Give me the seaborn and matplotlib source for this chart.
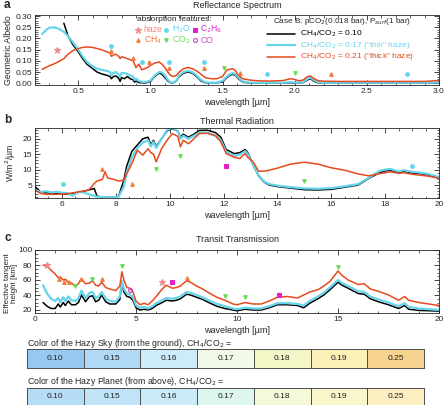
import numpy as np
import matplotlib
matplotlib.use('Agg')
import matplotlib.pyplot as plt
from matplotlib.colors import ListedColormap
from matplotlib.ticker import MultipleLocator, FormatStrFormatter
import seaborn as sns

# ---- colours ----
BLACK = '#000000'
CYAN = '#66D4EA'
RED = '#E64A1E'
C_HAZE = '#F08A8A'
C_H2O = '#5FD6EC'
C_C2H6 = '#E020C8'
C_CH4 = '#F07A3A'
C_CO2 = '#66DD55'
C_CO = '#C840C0'

# ---- panel a: reflectance spectrum ----
wl_a = [0.25, 0.28, 0.30, 0.33, 0.36, 0.40, 0.43, 0.46, 0.50, 0.53, 0.56, 0.60, 0.63, 0.66,
        0.70, 0.72, 0.73, 0.74, 0.76, 0.78, 0.79, 0.80, 0.82, 0.84, 0.86, 0.88, 0.89, 0.90,
        0.92, 0.94, 0.96, 0.98, 1.00, 1.03, 1.06, 1.08, 1.10, 1.12, 1.14, 1.16, 1.18, 1.20,
        1.23, 1.26, 1.29, 1.32, 1.35, 1.38, 1.42, 1.46, 1.50, 1.53, 1.55, 1.57, 1.59, 1.61,
        1.64, 1.68, 1.72, 1.78, 1.85, 1.92, 1.97, 2.00, 2.03, 2.06, 2.09, 2.11, 2.13, 2.16,
        2.20, 2.30, 2.40, 2.50, 2.60, 2.70, 2.80, 2.90, 3.00]
alb_black = [np.nan, np.nan, np.nan, np.nan, np.nan, 0.268, 0.21, 0.175, 0.14, 0.11, 0.085, 0.065, 0.05, 0.042,
             0.035, 0.03, 0.02, 0.028, 0.033, 0.022, 0.008, 0.025, 0.02, 0.03, 0.02, 0.015, 0.005, 0.01,
             0.003, 0.002, 0.001, 0.003, 0.008, 0.03, 0.045, 0.04, 0.025, 0.01, 0.002, 0.002, 0.01, 0.03,
             0.045, 0.05, 0.045, 0.03, 0.01, 0.002, 0.001, 0.002, 0.005, 0.025, 0.035, 0.04, 0.035, 0.02,
             0.005, 0.001, 0.001, 0.001, 0.001, 0.001, 0.002, 0.001, 0.001, 0.003, 0.015, 0.02, 0.01, 0.002,
             0.001, 0.001, 0.001, 0.001, 0.001, 0.001, 0.001, 0.001, 0.001]
alb_cyan = [0.22, 0.24, 0.248, 0.25, 0.245, 0.23, 0.21, 0.185, 0.15, 0.12, 0.095, 0.075, 0.065, 0.06,
            0.055, 0.05, 0.035, 0.045, 0.05, 0.04, 0.028, 0.045, 0.045, 0.042, 0.035, 0.03, 0.015, 0.02,
            0.01, 0.006, 0.005, 0.007, 0.012, 0.035, 0.05, 0.048, 0.035, 0.015, 0.004, 0.003, 0.012, 0.035,
            0.05, 0.055, 0.05, 0.035, 0.015, 0.004, 0.002, 0.003, 0.01, 0.03, 0.04, 0.045, 0.04, 0.025,
            0.008, 0.003, 0.002, 0.002, 0.002, 0.002, 0.005, 0.003, 0.002, 0.005, 0.02, 0.025, 0.015, 0.005,
            0.002, 0.002, 0.002, 0.002, 0.002, 0.002, 0.002, 0.002, 0.003]
alb_red = [0.062, 0.072, 0.078, 0.086, 0.095, 0.11, 0.13, 0.145, 0.155, 0.16, 0.162, 0.16, 0.155, 0.15,
           0.14, 0.135, 0.12, 0.125, 0.13, 0.12, 0.11, 0.118, 0.115, 0.11, 0.105, 0.10, 0.085, 0.07,
           0.085, 0.06, 0.065, 0.07, 0.08, 0.09, 0.095, 0.085, 0.07, 0.05, 0.035, 0.03, 0.035, 0.05,
           0.065, 0.07, 0.065, 0.055, 0.04, 0.025, 0.02, 0.02, 0.03, 0.06, 0.062, 0.065, 0.055, 0.035,
           0.02, 0.015, 0.012, 0.01, 0.01, 0.012, 0.02, 0.017, 0.01, 0.015, 0.03, 0.032, 0.022, 0.012,
           0.009, 0.008, 0.008, 0.008, 0.008, 0.008, 0.008, 0.008, 0.012]

a_haze = ([0.35], [0.148])
a_h2o = ([0.725, 0.945, 1.13, 1.37, 1.81, 2.78], [0.166, 0.093, 0.093, 0.093, 0.04, 0.04])
a_ch4 = ([0.725, 0.88, 0.99, 1.13, 1.37, 1.62, 2.25], [0.144, 0.114, 0.093, 0.07, 0.07, 0.046, 0.04])
a_co2 = ([1.51, 2.0], [0.069, 0.046])

# ---- panel b: thermal radiation ----
wl_b = [5.0, 5.2, 5.4, 5.6, 5.8, 6.0, 6.2, 6.4, 6.6, 6.8, 7.0, 7.2, 7.3, 7.5, 7.6, 7.7, 7.9, 8.1,
        8.3, 8.4, 8.6, 8.8, 9.0, 9.2, 9.3, 9.4, 9.5, 9.7, 9.9, 10.1, 10.3, 10.4, 10.5, 10.7, 10.9,
        11.1, 11.4, 11.7, 11.9, 12.1, 12.4, 12.6, 12.8, 12.9, 13.1, 13.3, 13.5, 13.7, 14.0, 14.5,
        15.0, 15.5, 16.0, 16.5, 17.0, 17.4, 17.8, 18.0, 18.2, 18.5, 18.7, 19.0, 19.3, 19.6, 20.0]
flux_black = [4.5, 2.8, 2.5, 2.3, 2.2, 2.1, 2.1, 2.3, 2.6, 3.0, 3.4, 3.9, 1.4, 1.1, 1.0, 1.0, 1.0, 1.3,
              6.6, 11.0, 16.0, 18.0, 20.0, 20.5, 18.0, 19.5, 17.5, 20.0, 22.5, 23.3, 22.5, 20.5, 21.5, 20.5, 21.5,
              22.7, 22.8, 22.0, 20.5, 16.5, 15.2, 15.5, 16.5, 15.5, 11.5, 8.0, 6.0, 5.0, 4.5, 4.0,
              3.5, 3.4, 3.6, 4.3, 5.0, 7.2, 9.0, 9.6, 9.8, 9.0, 9.5, 8.9, 8.7, 8.3, 7.2]
flux_cyan = [3.5, 2.7, 3.0, 2.6, 2.8, 2.5, 2.4, 1.5, 2.8, 2.6, 2.0, 1.5, 1.2, 1.1, 1.0, 1.0, 1.0, 1.2,
             4.5, 9.0, 14.0, 17.0, 18.8, 19.5, 17.5, 19.0, 17.0, 20.0, 22.8, 23.6, 22.5, 20.0, 21.0, 20.0, 21.0,
             22.0, 22.0, 21.0, 19.5, 15.8, 14.5, 14.8, 16.0, 15.0, 11.5, 8.2, 6.2, 5.3, 4.8, 4.3,
             3.9, 3.8, 4.0, 4.6, 5.3, 7.4, 9.6, 10.0, 10.2, 9.4, 9.8, 9.3, 9.0, 8.6, 7.6]
flux_red = [3.4, 2.3, 2.0, 2.0, 2.0, 2.1, 2.2, 2.4, 2.8, 3.0, 3.4, 5.5, 6.3, 6.8, 9.3, 7.3, 6.9, 6.3,
            6.6, 8.6, 12.0, 16.3, 14.7, 16.8, 15.5, 15.0, 12.5, 16.8, 19.5, 21.7, 20.8, 17.4, 19.5, 18.4, 20.0,
            21.7, 21.8, 21.0, 19.0, 15.2, 14.0, 13.6, 15.2, 14.0, 12.5, 9.5, 9.5, 9.8, 10.5, 11.8,
            12.4, 11.8, 10.6, 9.8, 8.6, 8.0, 8.7, 9.0, 9.3, 8.8, 9.0, 8.5, 8.2, 7.9, 7.2]

b_h2o = ([6.05, 19.0], [5.3, 11.2])
b_ch4 = ([7.5, 8.6], [10.1, 5.2])
b_co2 = ([9.5, 10.4, 15.0], [10.2, 14.4, 6.3])
b_c2h6 = ([12.1], [11.1])

# ---- panel c: transit transmission ----
wl_c = [0.4, 0.6, 0.8, 1.0, 1.15, 1.25, 1.4, 1.5, 1.65, 1.8, 2.0, 2.15, 2.3, 2.5, 2.7, 2.85, 3.0,
        3.15, 3.3, 3.5, 3.7, 4.0, 4.2, 4.3, 4.4, 4.55, 4.7, 4.85, 5.0, 5.2, 5.4, 5.6, 5.8, 6.0, 6.3,
        6.5, 6.8, 7.0, 7.2, 7.5, 7.7, 8.0, 8.3, 8.6, 9.0, 9.4, 9.8, 10.0, 10.4, 10.8, 11.2, 11.6,
        12.0, 12.5, 13.0, 13.3, 13.6, 14.0, 14.3, 14.6, 15.0, 15.2, 15.5, 16.0, 16.3, 16.6, 17.0,
        17.5, 18.0, 18.3, 18.5, 19.0, 19.5, 20.0]
h_black = [30, 25, 22, 22, 28, 24, 30, 26, 32, 27, 27, 30, 40, 31, 38, 39, 31,
           33, 40, 31, 28, 28, 34, 56, 44, 38, 37, 33, 23, 20, 21, 20, 22, 26, 30,
           33, 32, 33, 35, 41, 40, 37, 34, 30, 25, 22, 20, 19, 21, 20, 20, 23,
           27, 27, 26, 23, 29, 35, 40, 47, 57, 53, 49, 42, 41, 35, 31,
           27, 22, 26, 21, 19.5, 19, 18.5]
h_cyan = [53, 42, 35, 32, 36, 30, 37, 32, 38, 33, 32, 35, 46, 36, 43, 44, 36,
          38, 44, 35, 32, 31, 38, 59, 48, 42, 41, 37, 26, 23, 24, 22, 25, 29, 33,
          36, 35, 36, 38, 44, 43, 40, 37, 33, 28, 25, 22, 21, 23, 22, 22, 25,
          29, 29, 28, 26, 32, 38, 43, 50, 60, 56, 52, 45, 44, 38, 34,
          30, 25, 29, 24, 22, 21, 20]
h_red = [80, 78, 73, 68, 63, 64, 60, 61, 57, 56, 52, 55, 62, 55, 56, 59, 53,
         52, 57, 50, 48, 46, 52, 71, 60, 50, 49, 44, 32, 27, 29, 27, 32, 38, 48,
         53, 49, 50, 52, 59, 57, 52, 48, 43, 37, 33, 28, 27, 30, 28, 28, 32,
         37, 38, 36, 40, 44, 47, 52, 58, 72, 66, 60, 54, 55, 48, 45,
         40, 33, 38, 33, 30, 28, 26]

c_haze = ([0.6, 6.3], [80, 58])
c_ch4 = ([1.2, 1.45, 1.7, 2.3, 3.3, 7.5], [61, 58, 57, 61, 61, 63])
c_co2 = ([2.0, 2.8, 4.3, 9.4, 10.4, 15.0], [52, 61, 79, 39, 37, 77])
c_co = ([4.7], [47])
c_c2h6 = ([6.8, 12.1], [57, 40])

# ---- colour strips ----
ratios = ['0.10', '0.15', '0.16', '0.17', '0.18', '0.19', '0.25']
sky_colors = ['#96C9F2', '#B0D9F6', '#CDEBFA', '#F3F9E8', '#F3F6C6', '#FAF0B8', '#F6D38E']
planet_colors = ['#B7DCF6', '#C0E3F7', '#CBECF6', '#DDF6F0', '#F5F9DA', '#F9F6CC', '#FBEFC2']

sns.set_style('ticks')
plt.rcParams['font.family'] = ['Liberation Sans', 'DejaVu Sans']
plt.rcParams.update({
    'xtick.direction': 'in', 'ytick.direction': 'in',
    'xtick.top': True, 'ytick.right': True,
    'xtick.major.size': 3.5, 'ytick.major.size': 3.5,
    'xtick.minor.size': 1.8, 'ytick.minor.size': 1.8,
    'xtick.major.width': 0.6, 'ytick.major.width': 0.6,
    'xtick.minor.width': 0.5, 'ytick.minor.width': 0.5,
    'xtick.labelsize': 6, 'ytick.labelsize': 6,
    'axes.linewidth': 0.6, 'xtick.major.pad': 2.5, 'ytick.major.pad': 2,
})

fig = plt.figure(figsize=(4.44, 4.05), dpi=100)
W, H = 444.0, 405.0


def axes_px(left, top, right, bottom):
    return fig.add_axes([left / W, 1 - bottom / H, (right - left) / W, (bottom - top) / H])


def draw_lines(ax, x, ys):
    for y, col, lw in ys:
        sns.lineplot(x=x, y=y, ax=ax, color=col, lw=lw, sort=False, estimator=None, errorbar=None)


def marks(ax, pts, marker, col, size, filled=True):
    ax.plot(pts[0], pts[1], ls='none', marker=marker, ms=size,
            mfc=col if filled else 'none', mec=col, mew=0.8)


ax_a = axes_px(35, 15, 439, 85)
ax_b = axes_px(35, 128, 439, 198)
ax_c = axes_px(35, 250, 439, 313)

# panel a
sns.lineplot(x=wl_a[5:], y=alb_black[5:], ax=ax_a, color=BLACK, lw=1.1, sort=False, estimator=None, errorbar=None)
draw_lines(ax_a, wl_a, [(alb_cyan, CYAN, 1.6), (alb_red, RED, 1.1)])
marks(ax_a, a_haze, '*', C_HAZE, 5)
marks(ax_a, a_h2o, 'o', C_H2O, 2.6)
marks(ax_a, a_ch4, '^', C_CH4, 2.6)
marks(ax_a, a_co2, 'v', C_CO2, 2.6)
ax_a.set_xlim(0.2, 3.0)
ax_a.set_ylim(-0.008, 0.305)
ax_a.xaxis.set_major_locator(MultipleLocator(0.5))
ax_a.xaxis.set_minor_locator(MultipleLocator(0.1))
ax_a.yaxis.set_major_locator(MultipleLocator(0.05))
ax_a.yaxis.set_minor_locator(MultipleLocator(0.01))
ax_a.xaxis.set_major_formatter(FormatStrFormatter('%.1f'))
ax_a.yaxis.set_major_formatter(FormatStrFormatter('%.2f'))
ax_a.set_ylabel('Geometric Albedo', fontsize=6.3)
ax_a.yaxis.set_label_coords(-0.055, 0.5)

# absorption feature key
tr = ax_a.transAxes
ax_a.text(0.252, 0.935, 'absorption features:', transform=tr, fontsize=6, va='center')
key = [
    (0.255, 0.79, '*', C_HAZE, True, 'haze', 4.5),
    (0.325, 0.79, 'o', C_H2O, True, 'H$_2$O', 2.6),
    (0.395, 0.79, 's', C_C2H6, True, 'C$_2$H$_6$', 2.6),
    (0.255, 0.64, '^', C_CH4, True, 'CH$_4$', 2.6),
    (0.325, 0.64, 'v', C_CO2, True, 'CO$_2$', 2.6),
    (0.395, 0.64, 'o', C_CO, False, 'CO', 2.8),
]
for kx, ky, m, col, filled, lab, ms in key:
    ax_a.plot([kx], [ky], transform=tr, marker=m, ms=ms, ls='none',
              mfc=col if filled else 'none', mec=col, mew=0.8, clip_on=False)
    ax_a.text(kx + 0.014, ky, lab, transform=tr, fontsize=6.2, color=col, va='center')

# case legend
ax_a.text(0.59, 0.91, 'Case B: pCO$_2$(0.018 bar), P$_{surf}$(1 bar)', transform=tr, fontsize=5.9, va='center')
case = [(0.73, BLACK, 'CH$_4$/CO$_2$ = 0.10'),
        (0.57, CYAN, 'CH$_4$/CO$_2$ = 0.17 ("thin" haze)'),
        (0.40, RED, 'CH$_4$/CO$_2$ = 0.21 ("thick" haze)')]
for ly, col, lab in case:
    ax_a.plot([0.574, 0.644], [ly, ly], transform=tr, color=col, lw=1.1 if col != CYAN else 1.6)
    ax_a.text(0.656, ly, lab, transform=tr, fontsize=6.0, color=col, va='center')

# panel b
draw_lines(ax_b, wl_b, [(flux_black, BLACK, 1.1), (flux_cyan, CYAN, 1.6), (flux_red, RED, 1.1)])
marks(ax_b, b_h2o, 'o', C_H2O, 2.6)
marks(ax_b, b_ch4, '^', C_CH4, 2.6)
marks(ax_b, b_co2, 'v', C_CO2, 2.6)
marks(ax_b, b_c2h6, 's', C_C2H6, 2.6)
ax_b.set_xlim(5, 20)
ax_b.set_ylim(0.8, 23.5)
ax_b.xaxis.set_major_locator(MultipleLocator(2))
ax_b.xaxis.set_minor_locator(MultipleLocator(0.5))
ax_b.yaxis.set_minor_locator(MultipleLocator(1))
ax_b.set_yticks([5, 10, 15, 20])
ax_b.set_ylabel('W/m$^2$/µm', fontsize=6.3)
ax_b.yaxis.set_label_coords(-0.042, 0.5)

# panel c
draw_lines(ax_c, wl_c, [(h_black, BLACK, 1.1), (h_cyan, CYAN, 1.6), (h_red, RED, 1.1)])
marks(ax_c, c_haze, '*', C_HAZE, 5)
marks(ax_c, c_ch4, '^', C_CH4, 2.6)
marks(ax_c, c_co2, 'v', C_CO2, 2.6)
marks(ax_c, c_co, 'o', C_CO, 2.8, filled=False)
marks(ax_c, c_c2h6, 's', C_C2H6, 2.6)
ax_c.set_xlim(0, 20)
ax_c.set_ylim(16, 100)
ax_c.xaxis.set_major_locator(MultipleLocator(5))
ax_c.xaxis.set_minor_locator(MultipleLocator(1))
ax_c.yaxis.set_major_locator(MultipleLocator(20))
ax_c.yaxis.set_minor_locator(MultipleLocator(5))
ax_c.set_ylabel('Effective tangent\nheight [km]', fontsize=5.8, linespacing=1.0)
ax_c.yaxis.set_label_coords(-0.042, 0.47)

for ax in (ax_a, ax_b, ax_c):
    ax.set_xlabel('wavelength [µm]', fontsize=6.5, labelpad=2)
    ax.tick_params(which='both', top=True, right=True)

# panel titles and letters
for ty, title, letter in [(6, 'Reflectance Spectrum', 'a'), (121, 'Thermal Radiation', 'b'),
                          (239, 'Transit Transmission', 'c')]:
    fig.text(237 / W, 1 - ty / H, title, fontsize=6.5, ha='center', va='center')
    fig.text(4 / W, 1 - (ty - 1) / H, letter, fontsize=8.5, fontweight='bold', ha='left', va='center')

# colour strips
idx = np.arange(len(ratios)).reshape(1, -1)
annot = np.array(ratios).reshape(1, -1)
for top, bottom, cols, label in [(349, 368, sky_colors, 'Color of the Hazy Sky (from the ground), CH$_4$/CO$_2$ ='),
                                 (388, 404.5, planet_colors, 'Color of the Hazy Planet (from above), CH$_4$/CO$_2$ =')]:
    axs = axes_px(27, top, 424, bottom)
    sns.heatmap(idx, ax=axs, cmap=ListedColormap(cols), vmin=-0.5, vmax=len(cols) - 0.5,
                annot=annot, fmt='', cbar=False, linewidths=0.6, linecolor='#505050',
                annot_kws={'fontsize': 6, 'color': '#222222'})
    axs.set_xticks([])
    axs.set_yticks([])
    for s in axs.spines.values():
        s.set_visible(True)
        s.set_linewidth(0.7)
        s.set_color('#505050')
    fig.text(27 / W, 1 - (top - 6) / H, label, fontsize=6.3, ha='left', va='center')

fig.savefig('out.png', dpi=100)
